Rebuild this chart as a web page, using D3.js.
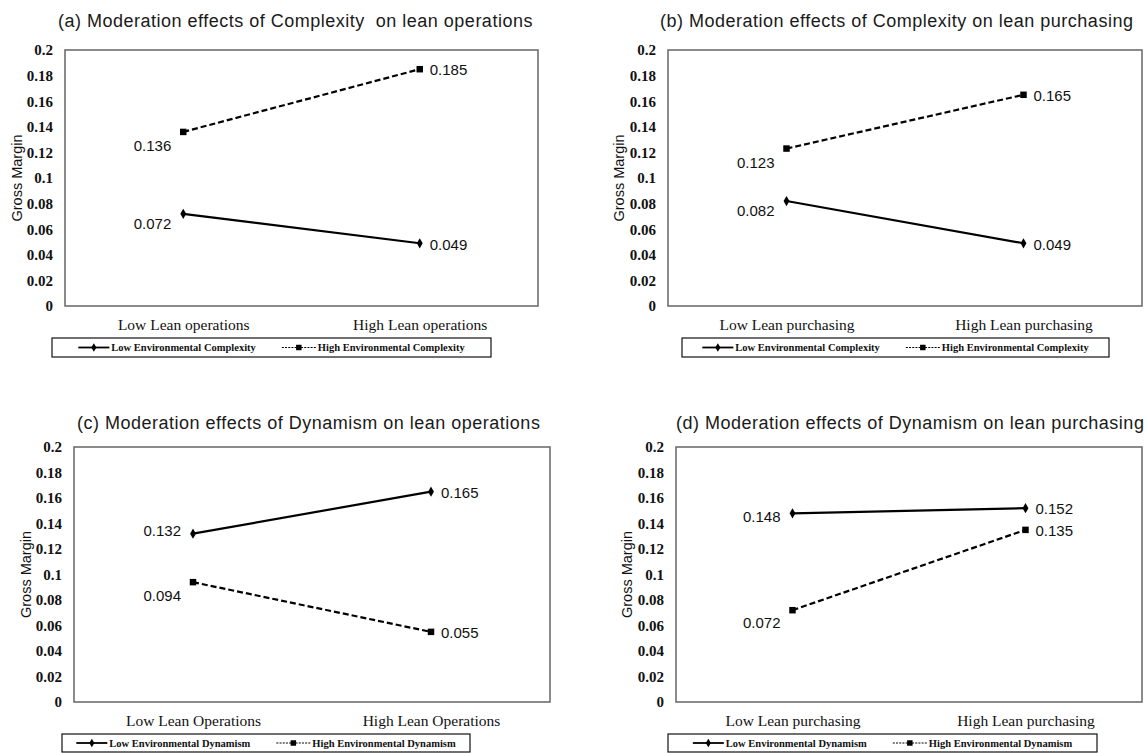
<!DOCTYPE html>
<html>
<head>
<meta charset="utf-8">
<script src="https://cdn.jsdelivr.net/npm/d3@7"></script>
<style>
  body { margin: 0; background: #fff; }
  svg { display: block; }
</style>
</head>
<body>
<svg id="chart" width="1145" height="753"></svg>
<script>
// ---- data ----
const yTickValues = [0, 0.02, 0.04, 0.06, 0.08, 0.1, 0.12, 0.14, 0.16, 0.18, 0.2];
const yTickLabels = ["0", "0.02", "0.04", "0.06", "0.08", "0.1", "0.12", "0.14", "0.16", "0.18", "0.2"];

const categoriesA = ["Low Lean operations", "High Lean operations"];
const categoriesB = ["Low Lean purchasing", "High Lean purchasing"];
const categoriesC = ["Low Lean Operations", "High Lean Operations"];
const categoriesD = ["Low Lean purchasing", "High Lean purchasing"];

const lowComplexityOps  = [0.072, 0.049];
const highComplexityOps = [0.136, 0.185];
const lowComplexityPur  = [0.082, 0.049];
const highComplexityPur = [0.123, 0.165];
const lowDynamismOps    = [0.132, 0.165];
const highDynamismOps   = [0.094, 0.055];
const lowDynamismPur    = [0.148, 0.152];
const highDynamismPur   = [0.072, 0.135];

const complexityNames = ["Low Environmental Complexity", "High Environmental Complexity"];
const dynamismNames   = ["Low Environmental Dynamism", "High Environmental Dynamism"];

const titles = [
  "(a) Moderation effects of Complexity\u00a0 on lean operations",
  "(b) Moderation effects of Complexity on lean purchasing",
  "(c) Moderation effects of Dynamism on lean operations",
  "(d) Moderation effects of Dynamism on lean purchasing"
];

// ---- panel layout ----
const panels = [
  { title: titles[0], cats: categoriesA, series: [lowComplexityOps, highComplexityOps], names: complexityNames,
    titleX: 58, titleY: 27, x0: 65, x1: 538, y0: 50, y1: 306, yLabelX: 17,
    legend: { x0: 52, x1: 491, y0: 338, y1: 357 }, leftDy: [10, 14] },
  { title: titles[1], cats: categoriesB, series: [lowComplexityPur, highComplexityPur], names: complexityNames,
    titleX: 660, titleY: 27, x0: 668, x1: 1142, y0: 50, y1: 306, yLabelX: 619,
    legend: { x0: 682, x1: 1109, y0: 338, y1: 357 }, leftDy: [10, 14] },
  { title: titles[2], cats: categoriesC, series: [lowDynamismOps, highDynamismOps], names: dynamismNames,
    titleX: 77, titleY: 429, x0: 74, x1: 550, y0: 447, y1: 702, yLabelX: 26,
    legend: { x0: 62, x1: 470, y0: 734, y1: 752 }, leftDy: [-3, 14] },
  { title: titles[3], cats: categoriesD, series: [lowDynamismPur, highDynamismPur], names: dynamismNames,
    titleX: 676, titleY: 429, x0: 676, x1: 1142, y0: 447, y1: 702, yLabelX: 627,
    legend: { x0: 668, x1: 1097, y0: 734, y1: 752 }, leftDy: [3, 13] }
];

const svg = d3.select("#chart");
const fmt = d3.format(".3f");
const sans = "Arial, 'Liberation Sans', sans-serif";
const serif = "'Times New Roman', 'Liberation Serif', serif";

const diamond = d3.symbol().type(d3.symbolDiamond).size(30);
const square = d3.symbol().type(d3.symbolSquare).size(42);

panels.forEach(p => {
  const g = svg.append("g");

  const x = d3.scalePoint().domain(p.cats).range([p.x0, p.x1]).padding(0.5);
  const y = d3.scaleLinear().domain([0, 0.2]).range([p.y1, p.y0]);

  // title
  g.append("text")
    .attr("x", p.titleX).attr("y", p.titleY)
    .attr("font-family", sans).attr("font-size", 18).attr("letter-spacing", 0.5)
    .attr("fill", "#1a1a1a")
    .text(p.title);

  // y axis (labels only, no tick marks)
  const yAxis = d3.axisLeft(y)
    .tickValues(yTickValues)
    .tickFormat((d, i) => yTickLabels[i])
    .tickSize(0).tickPadding(12);
  const ya = g.append("g").attr("transform", `translate(${p.x0},0)`).call(yAxis);
  ya.select(".domain").remove();
  ya.selectAll("text")
    .attr("font-family", serif).attr("font-weight", "bold").attr("font-size", 15).attr("fill", "#111");

  // x axis category labels
  const xAxis = d3.axisBottom(x).tickSize(0).tickPadding(13);
  const xa = g.append("g").attr("transform", `translate(0,${p.y1})`).call(xAxis);
  xa.select(".domain").remove();
  xa.selectAll("text")
    .attr("font-family", serif).attr("font-size", 15.5).attr("fill", "#111");

  // y title
  g.append("text")
    .attr("transform", `translate(${p.yLabelX},${(p.y0 + p.y1) / 2}) rotate(-90)`)
    .attr("text-anchor", "middle").attr("dominant-baseline", "central")
    .attr("font-family", sans).attr("font-size", 14.5).attr("fill", "#111")
    .text("Gross Margin");

  // plot area border
  g.append("rect")
    .attr("x", p.x0).attr("y", p.y0)
    .attr("width", p.x1 - p.x0).attr("height", p.y1 - p.y0)
    .attr("fill", "none").attr("stroke", "#6e6e6e").attr("stroke-width", 1.6);

  const line = d3.line().x((d, i) => x(p.cats[i])).y(d => y(d));

  p.series.forEach((vals, si) => {
    const dashed = si === 1;
    g.append("path")
      .datum(vals)
      .attr("d", line)
      .attr("fill", "none").attr("stroke", "#000")
      .attr("stroke-width", 2.2)
      .attr("stroke-dasharray", dashed ? "6,3" : null);

    g.selectAll(null).data(vals).enter().append("path")
      .attr("transform", (d, i) => `translate(${x(p.cats[i])},${y(d)})`)
      .attr("d", dashed ? square : diamond)
      .attr("fill", "#000");

    // value labels
    g.selectAll(null).data(vals).enter().append("text")
      .attr("x", (d, i) => x(p.cats[i]) + (i === 0 ? -12 : 10))
      .attr("y", (d, i) => y(d) + (i === 0 ? p.leftDy[si] : 1))
      .attr("dy", "0.35em")
      .attr("text-anchor", (d, i) => i === 0 ? "end" : "start")
      .attr("font-family", sans).attr("font-size", 15).attr("fill", "#111")
      .text(d => fmt(d));
  });

  // legend
  const L = p.legend;
  g.append("rect")
    .attr("x", L.x0).attr("y", L.y0)
    .attr("width", L.x1 - L.x0).attr("height", L.y1 - L.y0)
    .attr("fill", "#fff").attr("stroke", "#111").attr("stroke-width", 1.2);

  const lg = g.append("g");
  const cy = (L.y0 + L.y1) / 2;
  let cx = 0;
  p.names.forEach((name, si) => {
    const dashed = si === 1;
    const sw = dashed ? 34 : 31;
    lg.append("line")
      .attr("x1", cx).attr("x2", cx + sw).attr("y1", cy).attr("y2", cy)
      .attr("stroke", "#000")
      .attr("stroke-width", dashed ? 1 : 1.8)
      .attr("stroke-dasharray", dashed ? "2,1.2" : null);
    lg.append("path")
      .attr("transform", `translate(${cx + sw / 2},${cy})`)
      .attr("d", dashed ? d3.symbol().type(d3.symbolSquare).size(30)() : d3.symbol().type(d3.symbolDiamond).size(22)())
      .attr("fill", "#000");
    const t = lg.append("text")
      .attr("x", cx + sw + 2).attr("y", cy).attr("dy", "0.35em")
      .attr("font-family", serif).attr("font-weight", "bold").attr("font-size", 10.5)
      .attr("fill", "#111")
      .text(name);
    cx += sw + 2 + t.node().getComputedTextLength() + (si === 0 ? 26 : 0);
  });
  const shift = (L.x0 + L.x1) / 2 - cx / 2;
  lg.attr("transform", `translate(${shift},0)`);
});
</script>
</body>
</html>
